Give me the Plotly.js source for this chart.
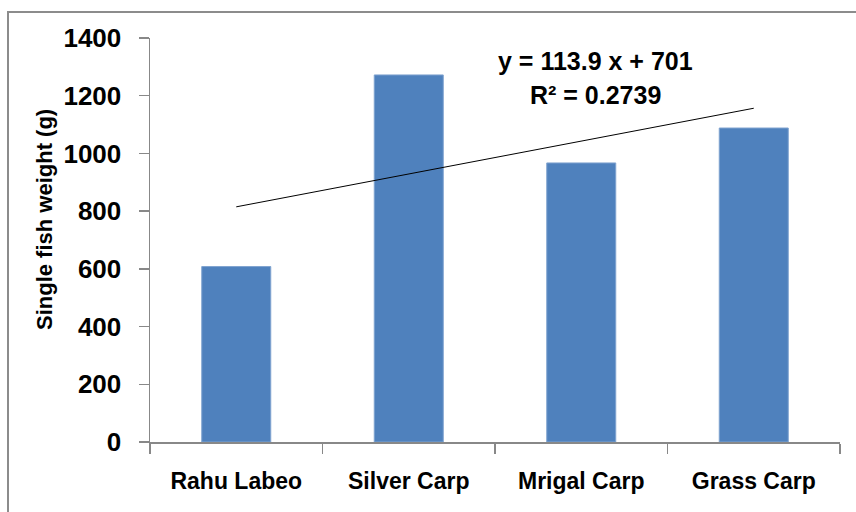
<!DOCTYPE html>
<html>
<head>
<meta charset="utf-8">
<script src="https://cdn.plot.ly/plotly-3.0.1.min.js"></script>
<style>html,body{margin:0;padding:0;background:#fff;}#chart{width:856px;height:512px;}</style>
</head>
<body>
<div id="chart"></div>
<script>
const categories = ["Rahu Labeo", "Silver Carp", "Mrigal Carp", "Grass Carp"];
const weights = [608, 1272, 967, 1088];
const trendSlope = 113.9;
const trendIntercept = 701;
const rSquared = 0.2739;
const yTicks = [0, 200, 400, 600, 800, 1000, 1200, 1400];

const trendY = categories.map((c, i) => trendSlope * (i + 1) + trendIntercept);

const FONT = "Liberation Sans, Arial, sans-serif";

const data = [
  {
    type: "bar",
    x: categories,
    y: weights,
    marker: {color: "#4F81BD", line: {color: "#7fa3cf", width: 1}},
    hoverinfo: "none"
  },
  {
    type: "scatter",
    mode: "lines",
    x: categories,
    y: trendY,
    line: {color: "#000", width: 1},
    hoverinfo: "none"
  }
];

const layout = {
  width: 856,
  height: 512,
  margin: {l: 150, r: 16, t: 38, b: 70},
  paper_bgcolor: "#fff",
  plot_bgcolor: "#fff",
  showlegend: false,
  bargap: 0.6,
  font: {family: FONT, color: "#000"},
  xaxis: {
    type: "category",
    showline: true,
    linecolor: "#888",
    linewidth: 1.5,
    ticks: "outside",
    tickson: "boundaries",
    ticklen: 10,
    tickcolor: "#888",
    tickwidth: 1.5,
    showgrid: false,
    zeroline: false,
    tickfont: {size: 23, family: FONT, weight: "bold"},
    ticklabelstandoff: 18
  },
  yaxis: {
    range: [0, 1400],
    tickvals: yTicks,
    ticktext: yTicks.map(String),
    showline: true,
    linecolor: "#888",
    linewidth: 1.5,
    ticks: "outside",
    ticklen: 10,
    tickcolor: "#888",
    tickwidth: 1.5,
    showgrid: false,
    zeroline: false,
    tickfont: {size: 26, family: FONT, weight: "bold"},
    ticklabelstandoff: 12
  },
  annotations: [
    {
      xref: "paper", yref: "paper",
      x: -0.1536, y: 0.5495,
      xanchor: "center", yanchor: "middle",
      textangle: -90,
      text: "Single fish weight (g)",
      showarrow: false,
      font: {size: 22, family: FONT, weight: "bold"}
    },
    {
      xref: "paper", yref: "paper",
      x: 0.645, y: 0.943,
      xanchor: "center", yanchor: "middle",
      text: "y = " + trendSlope + " x + " + trendIntercept,
      showarrow: false,
      font: {size: 25, family: FONT, weight: "bold"}
    },
    {
      xref: "paper", yref: "paper",
      x: 0.646, y: 0.858,
      xanchor: "center", yanchor: "middle",
      text: "R² = " + rSquared,
      showarrow: false,
      font: {size: 25, family: FONT, weight: "bold"}
    }
  ],
  shapes: [
    {
      type: "rect", xref: "paper", yref: "paper",
      x0: -0.2058, x1: 1.04, y0: -0.2, y1: 1.0644,
      line: {color: "#8c8c8c", width: 2},
      fillcolor: "rgba(0,0,0,0)",
      layer: "below"
    }
  ]
};

Plotly.newPlot("chart", data, layout, {displayModeBar: false, staticPlot: true});
</script>
</body>
</html>
